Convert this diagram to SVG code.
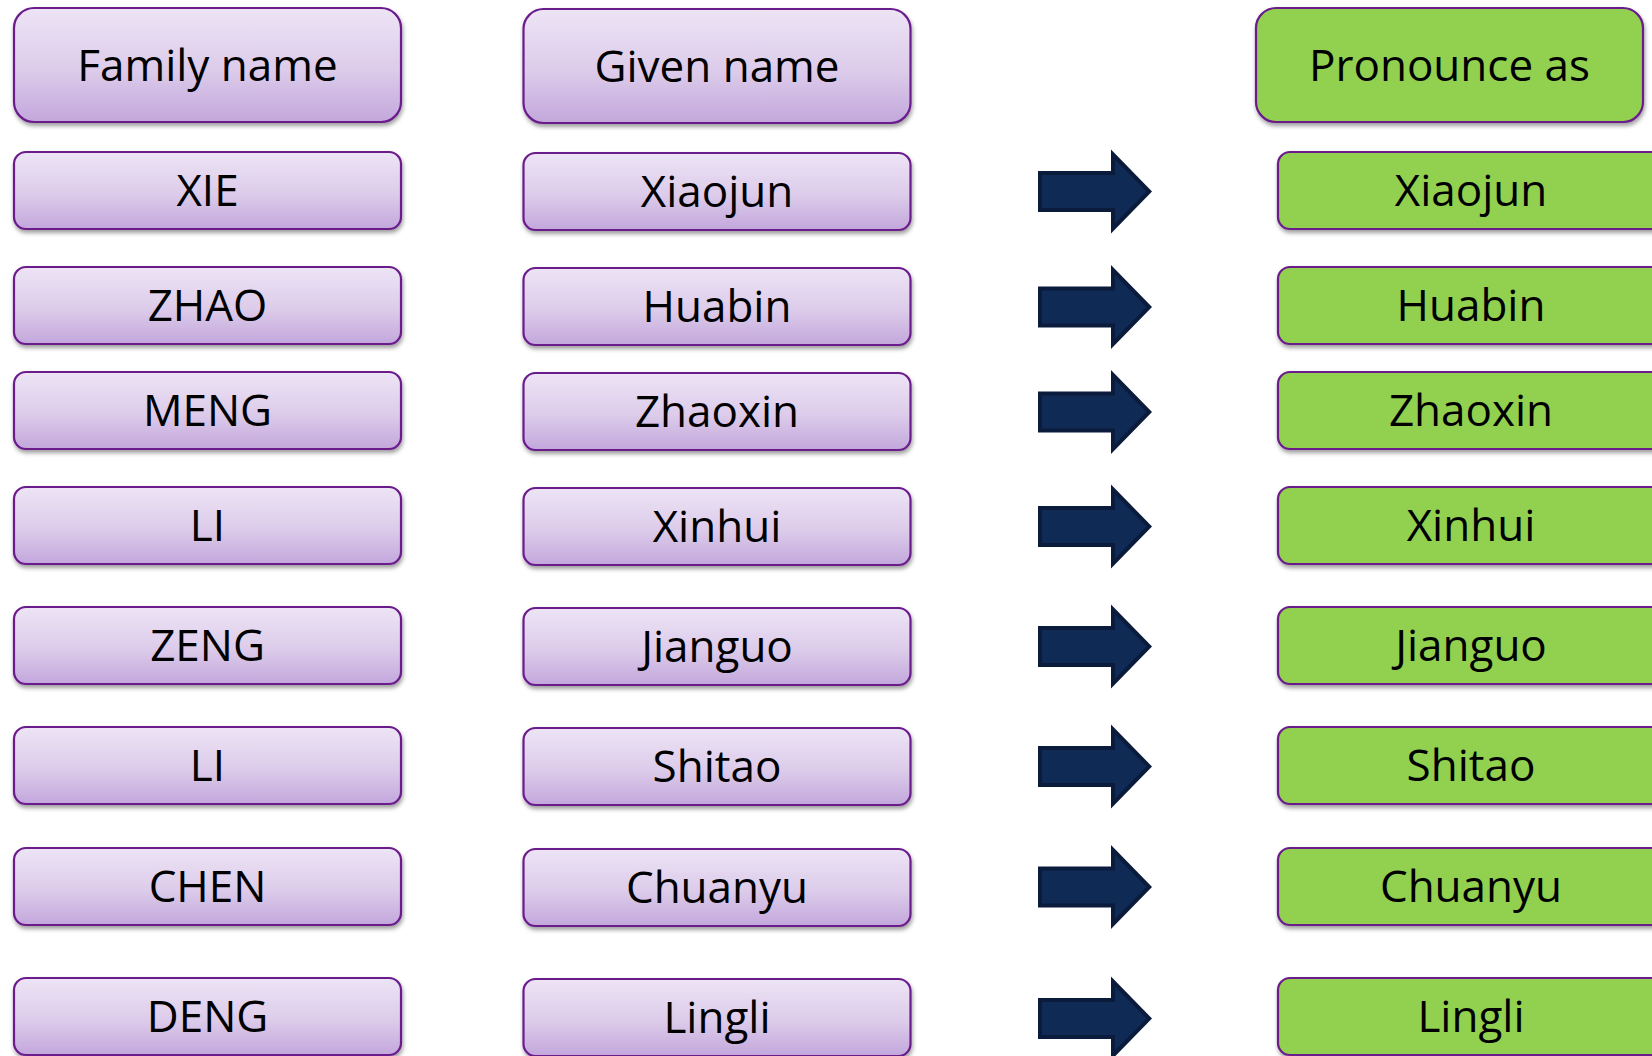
<svg xmlns="http://www.w3.org/2000/svg" width="1652" height="1056" viewBox="0 0 1652 1056">
<defs>
<linearGradient id="purp" x1="0" y1="0" x2="0" y2="1">
<stop offset="0" stop-color="#ede4f5"/>
<stop offset="0.55" stop-color="#dccbea"/>
<stop offset="1" stop-color="#c3a7dc"/>
</linearGradient>
<filter id="sh" x="-5%" y="-10%" width="112%" height="130%">
<feDropShadow dx="1" dy="3" stdDeviation="2.2" flood-color="#000" flood-opacity="0.38"/>
</filter>
<g id="arrow">
<path class="aro" d="M1038,-20.5 H1111 V-42 L1152,0 L1111,42 V20.5 H1038 Z"/>
<path class="ari" d="M1042,-16.5 H1115 V-32.1 L1146.4,0 L1115,32.1 V16.5 H1042 Z"/>
</g>
</defs>
<style>
.p{fill:url(#purp);stroke:#6a1b8c;stroke-width:2.2;filter:url(#sh)}
.g{fill:#92d050;stroke:#6a1b8c;stroke-width:2.2;filter:url(#sh)}
.t{font-family:"Open Sans","Noto Sans","Liberation Sans",sans-serif;font-size:44px;fill:#000;text-anchor:middle}
.aro{fill:#0a1b3c}
.ari{fill:#0f2a55}
</style>
<rect width="1652" height="1056" fill="#fff"/>

<g id="hdr-family"><rect class="p" x="14" y="8" width="387" height="114" rx="20"/><text class="t" x="207.5" y="81">Family name</text></g>
<g id="hdr-given"><rect class="p" x="523.5" y="9" width="387" height="114" rx="20"/><text class="t" x="717" y="82">Given name</text></g>
<g id="hdr-pron"><rect class="g" x="1256" y="8" width="387" height="114" rx="20"/><text class="t" x="1449.5" y="81">Pronounce as</text></g>

<g id="fam-1"><rect class="p" x="14" y="152" width="387" height="77" rx="12"/><text class="t" x="207.5" y="206">XIE</text></g>
<g id="fam-2"><rect class="p" x="14" y="267" width="387" height="77" rx="12"/><text class="t" x="207.5" y="321">ZHAO</text></g>
<g id="fam-3"><rect class="p" x="14" y="372" width="387" height="77" rx="12"/><text class="t" x="207.5" y="426">MENG</text></g>
<g id="fam-4"><rect class="p" x="14" y="487" width="387" height="77" rx="12"/><text class="t" x="207.5" y="541">LI</text></g>
<g id="fam-5"><rect class="p" x="14" y="607" width="387" height="77" rx="12"/><text class="t" x="207.5" y="661">ZENG</text></g>
<g id="fam-6"><rect class="p" x="14" y="727" width="387" height="77" rx="12"/><text class="t" x="207.5" y="781">LI</text></g>
<g id="fam-7"><rect class="p" x="14" y="848" width="387" height="77" rx="12"/><text class="t" x="207.5" y="902">CHEN</text></g>
<g id="fam-8"><rect class="p" x="14" y="978" width="387" height="77" rx="12"/><text class="t" x="207.5" y="1032">DENG</text></g>

<g id="giv-1"><rect class="p" x="523.5" y="153" width="387" height="77" rx="12"/><text class="t" x="717" y="207">Xiaojun</text></g>
<g id="giv-2"><rect class="p" x="523.5" y="268" width="387" height="77" rx="12"/><text class="t" x="717" y="322">Huabin</text></g>
<g id="giv-3"><rect class="p" x="523.5" y="373" width="387" height="77" rx="12"/><text class="t" x="717" y="427">Zhaoxin</text></g>
<g id="giv-4"><rect class="p" x="523.5" y="488" width="387" height="77" rx="12"/><text class="t" x="717" y="542">Xinhui</text></g>
<g id="giv-5"><rect class="p" x="523.5" y="608" width="387" height="77" rx="12"/><text class="t" x="717" y="662">Jianguo</text></g>
<g id="giv-6"><rect class="p" x="523.5" y="728" width="387" height="77" rx="12"/><text class="t" x="717" y="782">Shitao</text></g>
<g id="giv-7"><rect class="p" x="523.5" y="849" width="387" height="77" rx="12"/><text class="t" x="717" y="903">Chuanyu</text></g>
<g id="giv-8"><rect class="p" x="523.5" y="979" width="387" height="77" rx="12"/><text class="t" x="717" y="1033">Lingli</text></g>

<g id="pron-1"><rect class="g" x="1278" y="152" width="390" height="77" rx="12"/><text class="t" x="1471" y="206">Xiaojun</text></g>
<g id="pron-2"><rect class="g" x="1278" y="267" width="390" height="77" rx="12"/><text class="t" x="1471" y="321">Huabin</text></g>
<g id="pron-3"><rect class="g" x="1278" y="372" width="390" height="77" rx="12"/><text class="t" x="1471" y="426">Zhaoxin</text></g>
<g id="pron-4"><rect class="g" x="1278" y="487" width="390" height="77" rx="12"/><text class="t" x="1471" y="541">Xinhui</text></g>
<g id="pron-5"><rect class="g" x="1278" y="607" width="390" height="77" rx="12"/><text class="t" x="1471" y="661">Jianguo</text></g>
<g id="pron-6"><rect class="g" x="1278" y="727" width="390" height="77" rx="12"/><text class="t" x="1471" y="781">Shitao</text></g>
<g id="pron-7"><rect class="g" x="1278" y="848" width="390" height="77" rx="12"/><text class="t" x="1471" y="902">Chuanyu</text></g>
<g id="pron-8"><rect class="g" x="1278" y="978" width="390" height="77" rx="12"/><text class="t" x="1471" y="1032">Lingli</text></g>

<g id="connectors">
<use href="#arrow" transform="translate(0,191.5)"/>
<use href="#arrow" transform="translate(0,307)"/>
<use href="#arrow" transform="translate(0,412)"/>
<use href="#arrow" transform="translate(0,526.5)"/>
<use href="#arrow" transform="translate(0,646.5)"/>
<use href="#arrow" transform="translate(0,766.5)"/>
<use href="#arrow" transform="translate(0,887)"/>
<use href="#arrow" transform="translate(0,1018.5)"/>
</g>
</svg>
